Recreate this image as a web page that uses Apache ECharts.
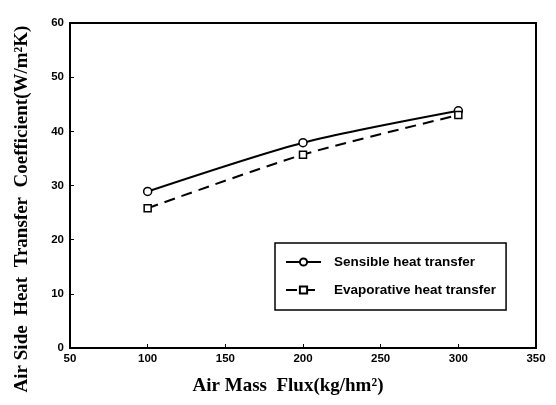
<!DOCTYPE html>
<html>
<head>
<meta charset="utf-8">
<script src="https://cdn.jsdelivr.net/npm/echarts@6/dist/echarts.min.js"></script>
<style>
  html, body { margin: 0; padding: 0; background: #fff; }
  #chart { width: 556px; height: 405px; }
</style>
</head>
<body>
<div id="chart"></div>
<script>
// data
var massFlux = [100, 200, 300]
var sensible = [28.9, 37.9, 43.8]
var evaporative = [25.8, 35.7, 43.0]
var seriesNames = ['Sensible heat transfer', 'Evaporative heat transfer']

function pairs(xs, ys) {
  return xs.map(function(x, i) { return [x, ys[i]] })
}

var chart = echarts.init(document.getElementById('chart'))
var labelFont = {
  color: '#000',
  fontFamily: 'Liberation Sans, Arial, sans-serif',
  fontWeight: 'bold',
  fontSize: 11.5
}
var titleFont = 'bold 19px "Liberation Serif", "Times New Roman", serif'

chart.setOption({
  animation: false,
  backgroundColor: '#fff',
  grid: {
    left: 70,
    right: 20,
    top: 23,
    bottom: 57,
    show: true,
    borderColor: '#000',
    borderWidth: 2
  },
  legend: {
    orient: 'vertical',
    left: 275,
    top: 243,
    padding: [12, 10, 13, 10],
    itemGap: 14,
    itemWidth: 35,
    itemHeight: 9,
    borderColor: '#000',
    borderWidth: 1.5,
    backgroundColor: '#fff',
    textStyle: {
      color: '#000',
      fontFamily: 'Liberation Sans, Arial, sans-serif',
      fontWeight: 'bold',
      fontSize: 13.5,
      padding: [0, 0, 0, 8]
    },
    data: seriesNames
  },
  xAxis: {
    type: 'value',
    min: 50,
    max: 350,
    interval: 50,
    axisLine: { lineStyle: { color: '#000', width: 2 } },
    axisTick: { inside: true, length: 4, lineStyle: { color: '#000' } },
    axisLabel: Object.assign({ margin: 5 }, labelFont),
    splitLine: { show: false }
  },
  yAxis: {
    type: 'value',
    min: 0,
    max: 60,
    interval: 10,
    axisLine: { show: true, lineStyle: { color: '#000', width: 2 } },
    axisTick: { show: true, inside: true, length: 4, lineStyle: { color: '#000' } },
    axisLabel: Object.assign({ margin: 6 }, labelFont),
    splitLine: { show: false }
  },
  graphic: [{
    type: 'text',
    x: 22,
    y: 209,
    rotation: Math.PI / 2,
    style: {
      text: 'Air Side  Heat  Transfer  Coefficient(W/m²K)',
      fill: '#000',
      font: titleFont,
      textAlign: 'center',
      textVerticalAlign: 'middle'
    }
  }, {
    type: 'text',
    x: 288,
    y: 386,
    style: {
      text: 'Air Mass  Flux(kg/hm²)',
      fill: '#000',
      font: titleFont,
      textAlign: 'center',
      textVerticalAlign: 'middle'
    }
  }],
  series: [
    {
      name: seriesNames[0],
      type: 'line',
      smooth: 0.25,
      data: pairs(massFlux, sensible),
      symbol: 'circle',
      symbolSize: 8,
      itemStyle: { color: '#fff', borderColor: '#000', borderWidth: 1.5 },
      lineStyle: { color: '#000', width: 2, type: 'solid' }
    },
    {
      name: seriesNames[1],
      type: 'line',
      smooth: 0.25,
      data: pairs(massFlux, evaporative),
      symbol: 'rect',
      symbolSize: 7,
      itemStyle: { color: '#fff', borderColor: '#000', borderWidth: 1.5 },
      lineStyle: { color: '#000', width: 2, type: [11, 7] }
    }
  ]
})
</script>
</body>
</html>
